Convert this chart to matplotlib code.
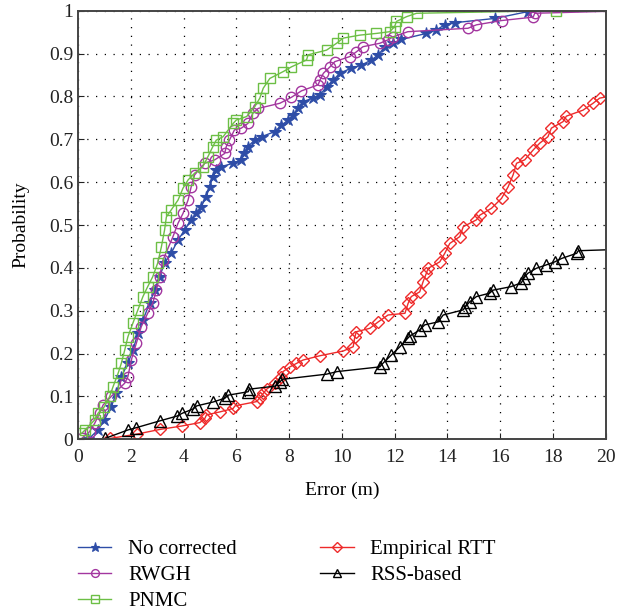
import numpy as np
import matplotlib
matplotlib.use("Agg")
import matplotlib.pyplot as plt

plt.rcParams['font.family'] = ['Liberation Serif', 'DejaVu Serif']

# (error in m, cumulative probability)
nocorr_x = [0.39, 0.76, 1.0, 1.26, 1.45, 1.64, 1.89, 2.08, 2.27, 2.46, 2.71, 2.9, 3.09, 3.28, 3.53,
            3.79, 4.04, 4.29, 4.48, 4.67, 4.86, 4.99, 5.11, 5.24, 5.43, 5.87, 6.19, 6.31, 6.44, 6.69,
            6.96, 7.46, 7.71, 7.97, 8.16, 8.34, 8.53, 8.91, 9.17, 9.42, 9.67, 9.92, 10.36, 10.74,
            11.12, 11.38, 11.63, 11.94, 12.26, 13.2, 13.58, 13.9, 14.28, 15.8, 17.06, 21.0]
nocorr_y = [0.0, 0.022, 0.045, 0.076, 0.107, 0.146, 0.177, 0.208, 0.247, 0.278, 0.317, 0.348, 0.379,
            0.411, 0.434, 0.465, 0.488, 0.512, 0.527, 0.543, 0.566, 0.589, 0.613, 0.628, 0.636, 0.644,
            0.652, 0.667, 0.683, 0.698, 0.706, 0.718, 0.733, 0.745, 0.757, 0.772, 0.788, 0.796, 0.803,
            0.823, 0.838, 0.854, 0.866, 0.873, 0.885, 0.897, 0.916, 0.924, 0.933, 0.947, 0.955, 0.967,
            0.972, 0.982, 0.998, 1.0]

rwgh_x = [0.14, 0.44, 0.63, 0.82, 0.95, 1.26, 1.77, 1.89, 2.02, 2.21, 2.4, 2.64, 2.83, 2.97, 3.09,
          3.22, 3.6, 3.79, 3.98, 4.17, 4.29, 4.42, 4.8, 5.18, 5.56, 5.62, 5.74, 5.93, 6.19, 6.44, 6.63,
          6.83, 7.65, 8.09, 8.47, 9.1, 9.17, 9.3, 9.55, 9.73, 10.3, 10.55, 10.8, 11.44, 11.75, 11.94,
          12.5, 14.78, 15.1, 16.05, 17.25, 17.31, 21.0]
rwgh_y = [0.002, 0.018, 0.037, 0.061, 0.08, 0.1, 0.131, 0.146, 0.185, 0.224, 0.263, 0.294, 0.317,
          0.348, 0.379, 0.418, 0.473, 0.504, 0.527, 0.558, 0.589, 0.617, 0.644, 0.652, 0.667, 0.683,
          0.698, 0.722, 0.726, 0.737, 0.761, 0.772, 0.784, 0.798, 0.813, 0.827, 0.838, 0.854, 0.869,
          0.881, 0.893, 0.904, 0.916, 0.924, 0.932, 0.939, 0.951, 0.959, 0.967, 0.977, 0.985, 0.994, 1.0]

pnmc_x = [0.14, 0.27, 0.63, 0.76, 1.0, 1.2, 1.33, 1.52, 1.64, 1.77, 1.89, 2.08, 2.27, 2.46, 2.64,
          2.83, 3.02, 3.16, 3.28, 3.35, 3.53, 3.79, 3.98, 4.17, 4.42, 4.73, 4.92, 5.11, 5.24, 5.5,
          5.88, 6.0, 6.39, 6.7, 6.89, 7.02, 7.27, 7.78, 8.09, 8.66, 8.72, 9.42, 9.8, 10.05, 10.68,
          11.31, 11.82, 12.0, 12.07, 12.45, 12.83, 18.13, 21.0]
pnmc_y = [0.014, 0.022, 0.045, 0.061, 0.076, 0.1, 0.123, 0.154, 0.177, 0.208, 0.239, 0.271, 0.302,
          0.333, 0.356, 0.379, 0.411, 0.449, 0.488, 0.519, 0.535, 0.558, 0.586, 0.605, 0.621, 0.636,
          0.659, 0.683, 0.698, 0.706, 0.737, 0.745, 0.753, 0.776, 0.796, 0.819, 0.842, 0.858, 0.869,
          0.885, 0.897, 0.908, 0.924, 0.936, 0.943, 0.947, 0.951, 0.963, 0.975, 0.986, 0.994, 1.0, 1.0]

rtt_x = [1.21, 2.22, 3.1, 3.93, 4.62, 4.81, 4.87, 5.38, 5.88, 5.95, 6.77, 6.89, 7.02, 7.15, 7.46,
         7.71, 7.77, 8.03, 8.28, 8.53, 9.17, 10.05, 10.43, 10.49, 10.55, 11.06, 11.38, 11.75, 12.39,
         12.51, 12.63, 12.95, 13.08, 13.2, 13.27, 13.71, 13.9, 14.09, 14.47, 14.6, 15.1, 15.23, 15.67,
         16.05, 16.3, 16.49, 16.62, 16.93, 17.25, 17.5, 17.81, 17.94, 18.38, 18.51, 19.14, 19.52,
         19.77, 21.0]
rtt_y = [0.002, 0.012, 0.023, 0.031, 0.039, 0.049, 0.057, 0.064, 0.072, 0.078, 0.088, 0.097, 0.107,
         0.117, 0.131, 0.146, 0.158, 0.169, 0.177, 0.185, 0.195, 0.206, 0.216, 0.239, 0.251, 0.259,
         0.274, 0.29, 0.294, 0.317, 0.333, 0.344, 0.368, 0.387, 0.399, 0.414, 0.434, 0.457, 0.473,
         0.496, 0.512, 0.523, 0.539, 0.562, 0.589, 0.617, 0.644, 0.652, 0.675, 0.691, 0.706, 0.726,
         0.741, 0.754, 0.768, 0.784, 0.796, 0.81]

rss_x = [1.02, 1.9, 2.2, 3.1, 3.74, 3.96, 4.37, 4.5, 5.12, 5.57, 5.69, 6.45, 6.49, 7.46, 7.65, 7.75,
         9.42, 9.82, 11.44, 11.55, 11.88, 12.2, 12.5, 12.58, 12.95, 13.14, 13.65, 13.84, 14.6, 14.66,
         14.85, 15.1, 15.6, 15.73, 16.4, 16.8, 16.9, 17.04, 17.37, 17.75, 18.07, 18.33, 18.9, 18.96,
         21.0]
rss_y = [0.002, 0.022, 0.027, 0.043, 0.054, 0.061, 0.071, 0.078, 0.087, 0.096, 0.103, 0.111, 0.117,
         0.124, 0.134, 0.14, 0.152, 0.158, 0.169, 0.177, 0.197, 0.216, 0.236, 0.241, 0.255, 0.267,
         0.274, 0.29, 0.302, 0.308, 0.321, 0.333, 0.341, 0.348, 0.356, 0.365, 0.376, 0.387, 0.399,
         0.407, 0.414, 0.422, 0.434, 0.44, 0.444]

x_ticks = np.arange(0, 21, 2)
y_ticks = np.arange(0, 1.01, 0.1)
y_labels = ['0', '0.1', '0.2', '0.3', '0.4', '0.5', '0.6', '0.7', '0.8', '0.9', '1']

fig = plt.figure(figsize=(6.29, 6.11), dpi=100)
ax = fig.add_axes([0.124, 0.281, 0.839, 0.7015])

ax.plot(nocorr_x, nocorr_y, color='#2E4DA7', marker='*', ms=9, mew=0.8, lw=1.0, label='No corrected')
ax.plot(rwgh_x, rwgh_y, color='#A3369F', marker='o', ms=7.5, mfc='none', mew=1.0, lw=1.0, label='RWGH')
ax.plot(pnmc_x, pnmc_y, color='#6CBF45', marker='s', ms=7.5, mfc='none', mew=1.0, lw=1.0, label='PNMC')
ax.plot(rtt_x, rtt_y, color='#EE2A2A', marker='D', ms=6.5, mfc='none', mew=1.0, lw=1.0, label='Empirical RTT')
ax.plot(rss_x, rss_y, color='black', marker='^', ms=8, mfc='none', mew=1.0, lw=1.0, label='RSS-based')

ax.set_xlim(0, 20)
ax.set_ylim(0, 1)
ax.set_xticks(x_ticks)
ax.set_yticks(y_ticks)
ax.set_yticklabels(y_labels)
ax.tick_params(direction='in', length=4, labelsize=14, colors='#222222')
ax.tick_params(axis='x', pad=7)
ax.grid(True, color='black', linestyle=(0, (1, 6)), linewidth=0.9)
for s in ax.spines.values():
    s.set_linewidth(1.4)
    s.set_color('#444444')

ax.set_xlabel('Error (m)', fontsize=14, labelpad=11)
ax.set_ylabel('Probability', fontsize=14, labelpad=14)

fig.legend(loc='upper left', bbox_to_anchor=(0.111, 0.130), ncol=2, frameon=False,
           fontsize=15, handlelength=1.6, columnspacing=4.0, labelspacing=0.3, borderaxespad=0,
           markerscale=0.75)

fig.savefig('out.png', dpi=100)
